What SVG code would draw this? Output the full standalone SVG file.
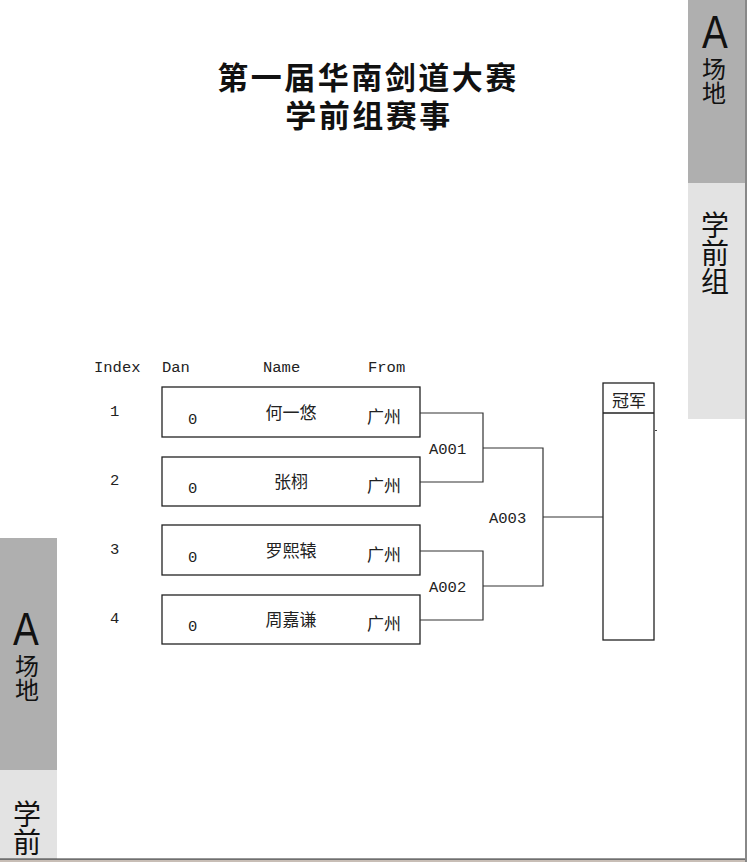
<svg xmlns="http://www.w3.org/2000/svg" width="747" height="862" viewBox="0 0 747 862">
<style>
.lat{font-family:"Liberation Mono","DejaVu Sans Mono",monospace;font-size:15.5px;fill:#222}
.cjk{font-family:"Noto Sans CJK SC","Noto Sans CJK JP",sans-serif;fill:#222}
.nm{font-size:17px;text-anchor:middle}
.box{fill:#fff;stroke:#222;stroke-width:1.3}
.con{fill:none;stroke:#333;stroke-width:1.2}
.title{font-family:"Noto Sans CJK SC",sans-serif;font-size:31px;font-weight:700;fill:#111;text-anchor:middle}
.side{font-family:"Noto Sans CJK SC",sans-serif;fill:#111;writing-mode:vertical-rl;text-orientation:upright}
.bigA{font-family:"Liberation Sans",Arial,sans-serif;font-size:42px;fill:#111;text-anchor:middle}
</style>
<rect width="747" height="862" fill="#fff"/>

<g id="right-panel">
<rect x="688" y="0" width="57" height="183" fill="#afafaf"/>
<rect x="688" y="183" width="57" height="236" fill="#e3e3e3"/>
<text class="bigA" transform="translate(715,48) scale(0.92,1.1)">A</text>
<text class="side" x="714" y="57" font-size="24">场地</text>
<text class="side" x="715" y="211" font-size="28">学前组</text>
<rect x="745" y="0" width="2" height="862" fill="#888"/>
</g>

<g id="left-panel">
<rect x="0" y="538" width="57" height="232" fill="#afafaf"/>
<rect x="0" y="770" width="57" height="89" fill="#e3e3e3"/>
<text class="bigA" transform="translate(26,645) scale(0.92,1.1)">A</text>
<text class="side" x="27" y="654" font-size="24">场地</text>
<text class="side" x="27" y="800" font-size="28">学前</text>
</g>

<g id="bottom-bar">
<rect x="0" y="858.5" width="745" height="1.2" fill="#333"/>
<rect x="0" y="860" width="745" height="2" fill="#c8beb6"/>
</g>

<g id="title">
<text class="title" x="368" y="89" letter-spacing="2.5">第一届华南剑道大赛</text>
<text class="title" x="369" y="127" letter-spacing="2.5">学前组赛事</text>
</g>

<g id="header">
<text class="lat" x="94" y="372">Index</text>
<text class="lat" x="162" y="372">Dan</text>
<text class="lat" x="263" y="372">Name</text>
<text class="lat" x="368" y="372">From</text>
</g>

<g id="player-1">
<rect class="box" x="162" y="387" width="258" height="50"/>
<text class="lat" x="110" y="416">1</text>
<text class="lat" x="188" y="424">0</text>
<text class="cjk nm" x="291" y="419">何一悠</text>
<text class="cjk nm" x="384" y="423">广州</text>
</g>
<g id="player-2">
<rect class="box" x="162" y="457" width="258" height="49"/>
<text class="lat" x="110" y="485">2</text>
<text class="lat" x="188" y="493">0</text>
<text class="cjk nm" x="291" y="488">张栩</text>
<text class="cjk nm" x="384" y="492">广州</text>
</g>
<g id="player-3">
<rect class="box" x="162" y="525" width="258" height="50"/>
<text class="lat" x="110" y="554">3</text>
<text class="lat" x="188" y="562">0</text>
<text class="cjk nm" x="291" y="557">罗熙辕</text>
<text class="cjk nm" x="384" y="561">广州</text>
</g>
<g id="player-4">
<rect class="box" x="162" y="595" width="258" height="49"/>
<text class="lat" x="110" y="623">4</text>
<text class="lat" x="188" y="631">0</text>
<text class="cjk nm" x="291" y="626">周嘉谦</text>
<text class="cjk nm" x="384" y="630">广州</text>
</g>

<g id="champion">
<rect class="box" x="603" y="383" width="51" height="257"/>
<line x1="603" y1="413" x2="654" y2="413" stroke="#222" stroke-width="1.3"/>
<text class="cjk nm" x="629" y="407">冠军</text>
<rect x="655" y="430" width="2" height="1" fill="#444"/>
</g>

<g id="connectors">
<polyline class="con" points="420,413 483,413 483,482 420,482"/>
<polyline class="con" points="420,551 483,551 483,620 420,620"/>
<polyline class="con" points="483,448 543,448 543,586 483,586"/>
<line class="con" x1="543" y1="517" x2="603" y2="517"/>
<text class="lat" x="429" y="454">A001</text>
<text class="lat" x="429" y="592">A002</text>
<text class="lat" x="489" y="523">A003</text>
</g>
</svg>
